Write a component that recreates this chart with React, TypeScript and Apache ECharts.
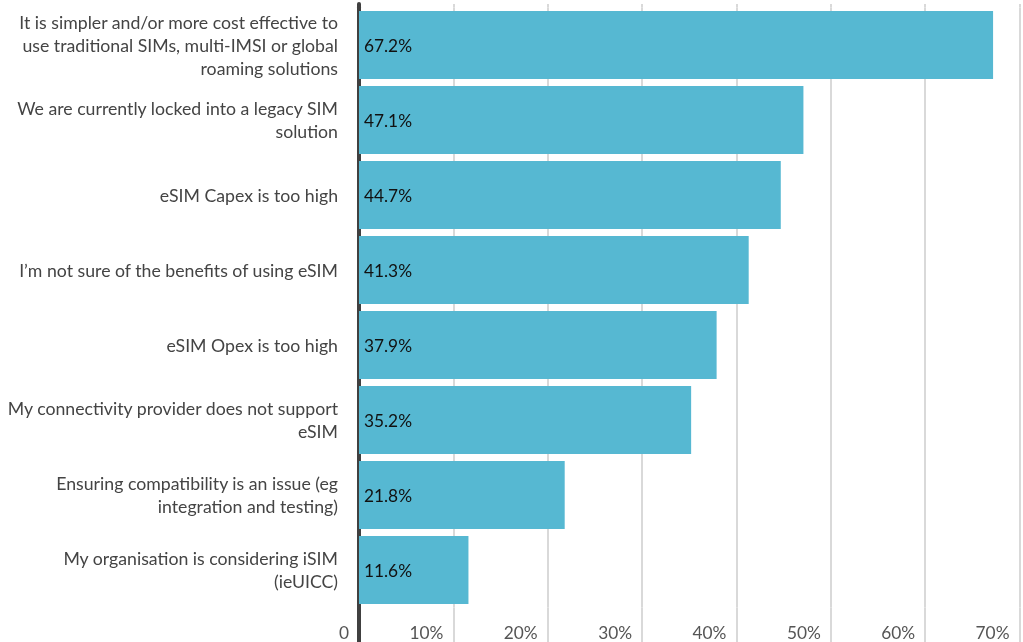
import React, { useEffect, useRef } from "react";
import * as echarts from "echarts";

const categories: string[] = [
  "It is simpler and/or more cost effective to\nuse traditional SIMs, multi-IMSI or global\nroaming solutions",
  "We are currently locked into a legacy SIM\nsolution",
  "eSIM Capex is too high",
  "I\u2019m not sure of the benefits of using eSIM",
  "eSIM Opex is too high",
  "My connectivity provider does not support\neSIM",
  "Ensuring compatibility is an issue (eg\nintegration and testing)",
  "My organisation is considering iSIM\n(ieUICC)",
];
const values: number[] = [67.2, 47.1, 44.7, 41.3, 37.9, 35.2, 21.8, 11.6];
const tickValues: number[] = [0, 10, 20, 30, 40, 50, 60, 70];
const tickLabels: string[] = ["0", "10%", "20%", "30%", "40%", "50%", "60%", "70%"];

const FONT = "Lato, 'Noto Sans', sans-serif";
const BAR = "#56B8D2";
const AXIS_DARK = "#404040";
const GRID_COLOR = "#d9d9d9";

export default function App() {
  const ref = useRef<HTMLDivElement>(null);
  useEffect(() => {
    if (!ref.current) return;
    const chart = echarts.init(ref.current, undefined, { renderer: "svg" });
    const left = 359;
    const right = 3.5;
    const xBase = {
      type: "value" as const,
      min: 0,
      max: 70,
      interval: 10,
      axisLine: { show: false },
      axisTick: { show: false },
      splitLine: { show: true, lineStyle: { color: GRID_COLOR, width: 2 } },
    };
    const yLine = {
      axisLine: { show: true, lineStyle: { color: AXIS_DARK, width: 4 } },
      axisTick: { show: false },
      splitLine: { show: false },
    };
    chart.setOption({
      animation: false,
      grid: [
        { left, right, top: 7.5, height: 600 },
        { left, right, top: 607.5, bottom: 0 },
        { left, right, top: 4, height: 3.5 },
      ],
      xAxis: [
        { ...xBase, gridIndex: 0, axisLabel: { show: false } },
        {
          ...xBase,
          gridIndex: 1,
          position: "bottom",
          axisLabel: {
            show: true,
            inside: true,
            margin: 1,
            align: "right",
            padding: [0, 10, 0, 0],
            color: "#555555",
            fontSize: 17.3,
            fontFamily: FONT,
            formatter: (v: number) => {
              const i = tickValues.indexOf(v);
              return i >= 0 ? tickLabels[i] : "";
            },
          },
        },
        { ...xBase, gridIndex: 2, axisLabel: { show: false } },
      ],
      yAxis: [
        {
          ...yLine,
          type: "category",
          gridIndex: 0,
          data: categories,
          inverse: true,
          axisLabel: {
            color: "#444444",
            fontSize: 17.7,
            lineHeight: 23,
            fontFamily: FONT,
            margin: 21,
            align: "right",
          },
        },
        { ...yLine, type: "value", gridIndex: 1, axisLabel: { show: false } },
        { ...yLine, type: "value", gridIndex: 2, axisLabel: { show: false } },
      ],
      series: [
        {
          type: "bar",
          xAxisIndex: 0,
          yAxisIndex: 0,
          data: values,
          barCategoryGap: "9.3%",
          itemStyle: { color: BAR },
          label: {
            show: true,
            position: "insideLeft",
            distance: 5,
            color: "#111111",
            fontSize: 17.3,
            fontFamily: FONT,
            formatter: (p: any) => `${Number(p.value).toFixed(1)}%`,
          },
        },
      ],
    });
    return () => chart.dispose();
  }, []);
  return <div ref={ref} style={{ width: 1023, height: 642, position: "fixed", left: 0, top: 0 }} />;
}
